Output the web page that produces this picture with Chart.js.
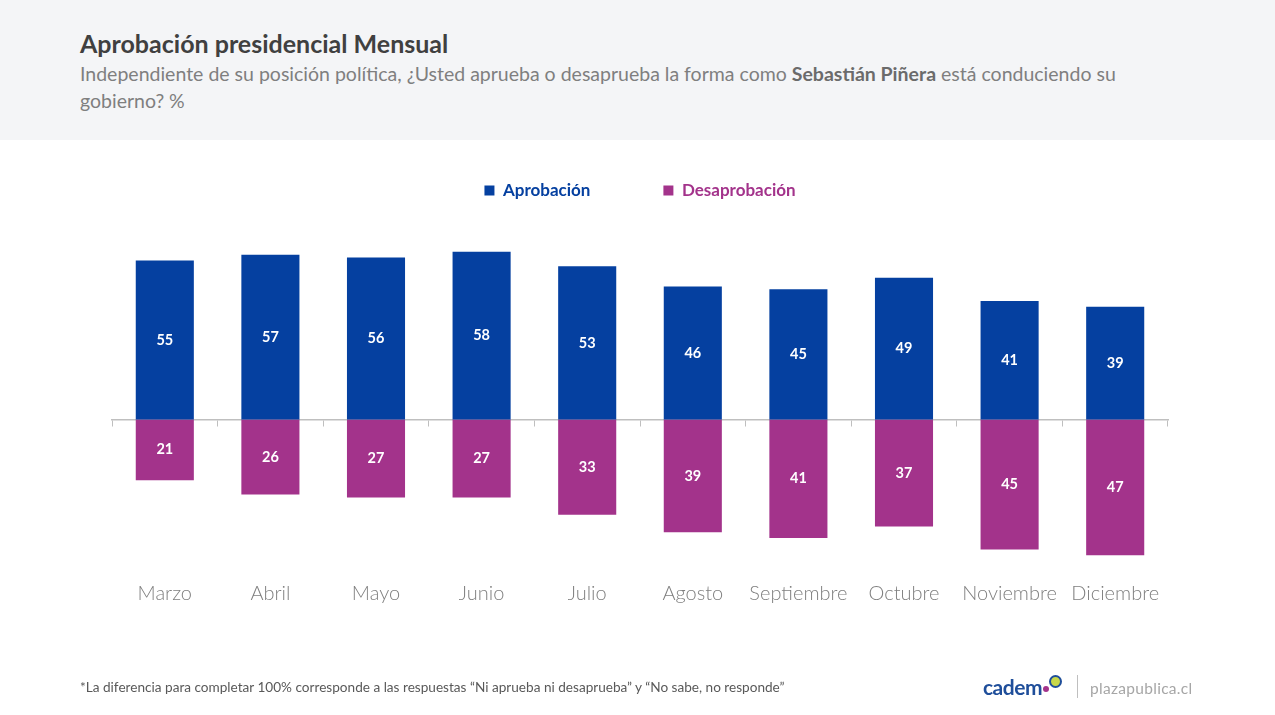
<!DOCTYPE html>
<html lang="es">
<head>
<meta charset="utf-8">
<title>Aprobación presidencial Mensual</title>
<script src="https://cdn.jsdelivr.net/npm/chart.js@4"></script>
<style>
  html, body { margin: 0; padding: 0; background: #fff; }
  body { width: 1275px; height: 715px; position: relative; overflow: hidden; font-family: Lato, "Open Sans", sans-serif; }
  .header { position: absolute; left: 0; top: 0; width: 1275px; height: 140px; background: #f4f5f7; }
  .title { position: absolute; left: 80px; top: 28px; font-size: 25px; font-weight: bold; color: #404040; white-space: nowrap; }
  .subtitle { position: absolute; left: 80px; top: 60px; font-size: 19.5px; line-height: 27px; color: #7f7f7f; white-space: nowrap; }
  .subtitle b { color: #6b6b6b; }
  #wrap { position: absolute; left: 0; top: 0; width: 1275px; height: 715px; }
  .note { position: absolute; left: 80px; top: 679px; font-size: 13.6px; color: #595959; white-space: nowrap; }
  .logo { position: absolute; left: 983px; top: 674px; font-size: 21px; font-weight: bold; color: #1f4e9a; letter-spacing: -0.5px; }
  .logo i { position: absolute; border-radius: 50%; }
  .sep { position: absolute; left: 1077px; top: 675px; width: 1px; height: 23px; background: #bfbfbf; }
  .site { position: absolute; left: 1090px; top: 679px; font-size: 15.5px; color: #a6a6a6; letter-spacing: 0.3px; }
</style>
</head>
<body>
<div class="header">
  <div class="title">Aprobación presidencial Mensual</div>
  <div class="subtitle">Independiente de su posición política, ¿Usted aprueba o desaprueba la forma como <b>Sebastián Piñera</b> está conduciendo su<br>gobierno? %</div>
</div>
<div id="wrap"><canvas id="approvalChart"></canvas></div>
<div class="note">*La diferencia para completar 100% corresponde a las respuestas “Ni aprueba ni desaprueba” y “No sabe, no responde”</div>
<div class="logo">cadem<i style="left:66px;top:1px;width:9px;height:9px;border:2px solid #1f4e9a;background:#c8d84a;"></i><i style="left:60px;top:12px;width:6px;height:6px;background:#a3338b;"></i></div>
<div class="sep"></div>
<div class="site">plazapublica.cl</div>

<script>
// Monthly data
const months = ['Marzo', 'Abril', 'Mayo', 'Junio', 'Julio', 'Agosto', 'Septiembre', 'Octubre', 'Noviembre', 'Diciembre'];
const approval = [55, 57, 56, 58, 53, 46, 45, 49, 41, 39];
const disapproval = [21, 26, 27, 27, 33, 39, 41, 37, 45, 47];

const BLUE = '#0540a0';
const PURPLE = '#a3338b';

// White values in the middle of every bar
const barValues = {
    id: 'barValues',
    afterDatasetsDraw(chart) {
        const ctx = chart.ctx;
        ctx.save();
        ctx.fillStyle = '#ffffff';
        ctx.font = 'bold 14.5px Lato, sans-serif';
        ctx.textAlign = 'center';
        ctx.textBaseline = 'middle';
        chart.data.datasets.forEach(function (ds, i) {
            chart.getDatasetMeta(i).data.forEach(function (bar, j) {
                const y = (bar.y + bar.base) / 2;
                ctx.fillText(Math.abs(ds.data[j]), bar.x, y);
            });
        });
        ctx.restore();
    }
};

const ctx = document.getElementById('approvalChart').getContext('2d');

new Chart(ctx, {
    type: 'bar',
    data: {
        labels: months,
        datasets: [{
            label: 'Aprobación',
            data: approval,
            backgroundColor: BLUE,
            barPercentage: 0.55,
            categoryPercentage: 1
        }, {
            label: 'Desaprobación',
            // negative so the bars hang below the axis
            data: disapproval.map(v => -v),
            backgroundColor: PURPLE,
            barPercentage: 0.55,
            categoryPercentage: 1
        }]
    },
    options: {
        responsive: true,
        maintainAspectRatio: false,
        animation: false,
        layout: {
            padding: { top: 109, left: 112, right: 107, bottom: 99 }
        },
        plugins: {
            legend: {
                position: 'top',
                labels: {
                    boxWidth: 10,
                    boxHeight: 10,
                    padding: 73,
                    font: { family: 'Lato, sans-serif', size: 17, weight: 'bold' },
                    generateLabels: function (chart) {
                        return chart.data.datasets.map(function (ds, i) {
                            return {
                                text: ds.label,
                                fillStyle: ds.backgroundColor,
                                strokeStyle: ds.backgroundColor,
                                lineWidth: 0,
                                fontColor: ds.backgroundColor,
                                hidden: false,
                                datasetIndex: i
                            };
                        });
                    }
                }
            },
            tooltip: { enabled: false }
        },
        scales: {
            x: {
                stacked: true,
                grid: { display: false },
                border: { display: false },
                ticks: {
                    color: '#7f7f7f',
                    padding: 10,
                    font: { family: 'Lato, sans-serif', size: 20, weight: '300' }
                }
            },
            // zero line with small tick marks between months
            x2: {
                type: 'category',
                labels: months,
                position: { y: 0 },
                offset: true,
                grid: { offset: true, drawOnChartArea: false, drawTicks: true, tickLength: 6, color: '#bfbfbf' },
                border: { display: true, color: '#bfbfbf', width: 1.5 },
                ticks: { display: false }
            },
            y: {
                stacked: true,
                display: false,
                min: -50,
                max: 72.8
            }
        }
    },
    plugins: [barValues]
});
</script>
</body>
</html>
